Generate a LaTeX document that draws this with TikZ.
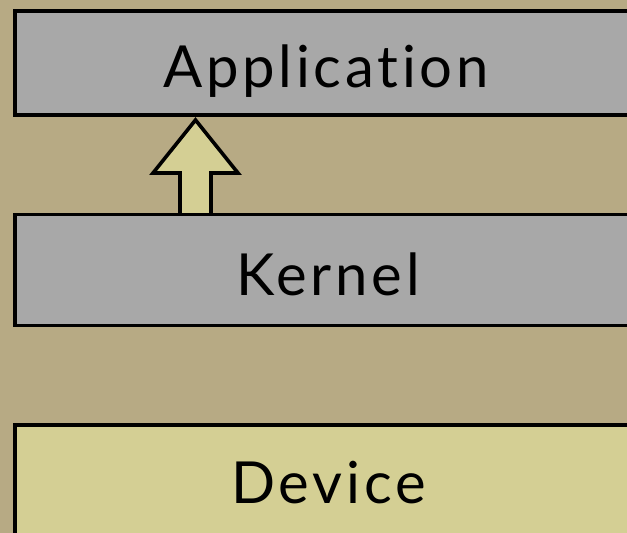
\documentclass[tikz,border=0pt]{standalone}
\usepackage{fontspec}
\setmainfont{Lato}[Ligatures=NoCommon, LetterSpace=6.5]
\definecolor{bgtan}{RGB}{183,170,132}
\definecolor{graybox}{RGB}{168,168,168}
\definecolor{devbox}{RGB}{212,207,148}
\tikzset{
  layer/.style={draw=black, line width=3.6pt, inner sep=0pt, outer sep=0pt, anchor=north west, minimum width=640pt},
  lbl/.style={font=\fontsize{58}{60}\selectfont, text=black, anchor=base, inner sep=0pt},
  uparrow/.style={draw=black, line width=3.6pt, fill=devbox, line join=miter}
}
\begin{document}
\begin{tikzpicture}[x=1pt,y=-1pt]
\useasboundingbox (0,0) rectangle (627,533);
\clip (0,0) rectangle (627,533);
\fill[bgtan] (0,0) rectangle (627,533);
% layers
\node[layer, fill=graybox, minimum height=104pt] (app) at (15,11) {};
\node[layer, fill=devbox, minimum height=140pt] (dev) at (15,425) {};
% arrow from kernel to application
\coordinate (tip) at (195.5,120);
\draw[uparrow] (180,216) -- (180,173) -- (153,173) -- (tip) -- (238,173) -- (211,173) -- (211,216) -- cycle;
\node[layer, fill=graybox, minimum height=111pt] (ker) at (15,214.5) {};
\node[lbl] (tapp) at (326,87) {Application};
\node[lbl] (tker) at (328,295) {Kernel};
\node[lbl] (tdev) at (328.5,503) {Device};
\end{tikzpicture}
\end{document}
